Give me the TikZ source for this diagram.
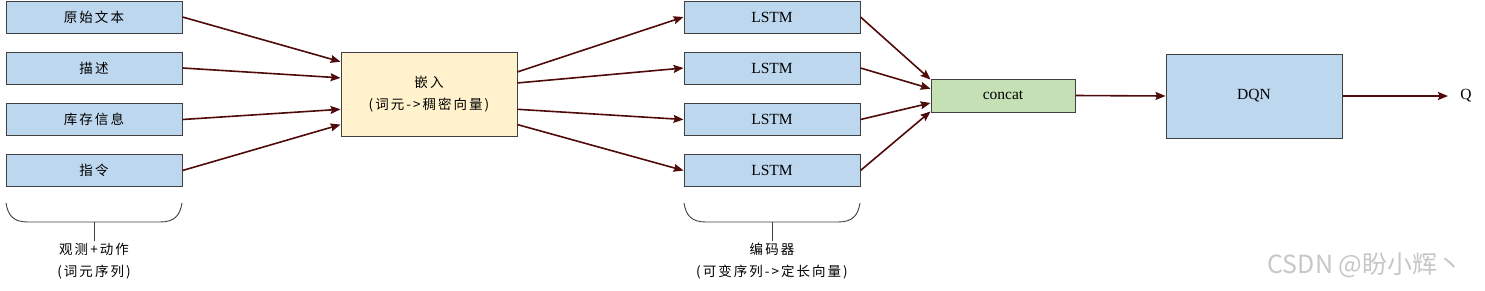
\documentclass[tikz,border=0pt]{standalone}
\usepackage{fontspec}
\setmainfont{Liberation Serif}
\newfontfamily\cjk[LetterSpace=15]{Noto Sans CJK SC}
\newfontfamily\wmfont{Noto Sans CJK SC}
\usetikzlibrary{arrows.meta,calc}
\definecolor{boxblue}{HTML}{BDD7EE}
\definecolor{boxyellow}{HTML}{FFF2CC}
\definecolor{boxgreen}{HTML}{C5E0B4}
\definecolor{edgegray}{HTML}{404040}
\definecolor{arr}{HTML}{4F0A0A}
\begin{document}
\begin{tikzpicture}[x=1pt,y=-1pt,
  box/.style={draw=edgegray, line width=1pt, fill=boxblue, minimum width=176pt,
    minimum height=32pt, inner sep=0pt, align=center},
  cjkfont/.style={font=\cjk\fontsize{13.5}{22}\selectfont},
  latfont/.style={font=\fontsize{15.5}{18}\selectfont},
  con/.style={draw=arr, line width=1.6pt, -{Stealth[length=10pt,width=8pt,inset=1.5pt]}},
  brace/.style={draw=edgegray, line width=0.9pt},
  lab/.style={cjkfont, align=center, inner sep=2pt}]
\useasboundingbox (0,0) rectangle (1485,290);
% input boxes
\node[box, cjkfont] (a1) at (94,17) {原始文本};
\node[box, cjkfont] (a2) at (94,68) {描述};
\node[box, cjkfont] (a3) at (94,119.5) {库存信息};
\node[box, cjkfont] (a4) at (94,170.5) {指令};
% embedding
\node[box, cjkfont, fill=boxyellow, minimum height=84pt] (emb) at (429,94) {嵌入\\(词元->稠密向量)};
% LSTM boxes
\node[box, latfont] (s1) at (772,17) {LSTM};
\node[box, latfont] (s2) at (772,68) {LSTM};
\node[box, latfont] (s3) at (772,119.5) {LSTM};
\node[box, latfont] (s4) at (772,170.5) {LSTM};
% concat and DQN
\node[box, latfont, fill=boxgreen, minimum width=144pt, minimum height=33pt] (cc) at (1003,95.5) {concat};
\node[box, latfont, minimum height=84pt] (dqn) at (1254,96) {DQN};
\node[latfont, inner sep=0pt] (q) at (1466,96) {Q};
\coordinate (qin) at (1448,96);
% connectors into embedding
\draw[con] (a1.east) -- ($(emb.north west)!0.12!(emb.south west)$);
\draw[con] (a2.east) -- ($(emb.north west)!0.31!(emb.south west)$);
\draw[con] (a3.east) -- ($(emb.north west)!0.68!(emb.south west)$);
\draw[con] (a4.east) -- ($(emb.north west)!0.86!(emb.south west)$);
% embedding to LSTM
\draw[con] ($(emb.north east)!0.24!(emb.south east)$) -- (s1.west);
\draw[con] ($(emb.north east)!0.37!(emb.south east)$) -- (s2.west);
\draw[con] ($(emb.north east)!0.68!(emb.south east)$) -- (s3.west);
\draw[con] ($(emb.north east)!0.86!(emb.south east)$) -- (s4.west);
% LSTM to concat
\draw[con] (s1.east) -- ($(cc.north west)!0.03!(cc.south west)$);
\draw[con] (s2.east) -- ($(cc.north west)!0.30!(cc.south west)$);
\draw[con] (s3.east) -- ($(cc.north west)!0.72!(cc.south west)$);
\draw[con] (s4.east) -- ($(cc.north west)!0.97!(cc.south west)$);
% concat -> DQN -> Q
\draw[con] (cc.east) -- (dqn.west);
\draw[con] (dqn.east) -- (qin);
% braces and labels
\draw[brace] (6,203) .. controls (8,216) and (14,222) .. (28,222) -- (160,222) .. controls (174,222) and (180,216) .. (182,203);
\coordinate (b1) at (94,222);
\node[lab] (lab1) at (94,261) {观测+动作\\(词元序列)};
\draw[brace] (b1) -- (lab1.north);
\draw[brace] (684,203) .. controls (686,216) and (692,222) .. (706,222) -- (838,222) .. controls (852,222) and (858,216) .. (860,203);
\coordinate (b2) at (772,222);
\node[lab] (lab2) at (772,261) {编码器\\(可变序列->定长向量)};
\draw[brace] (b2) -- (lab2.north);
% watermark
\node[text=black!22, font=\wmfont\fontsize{25}{25}\selectfont, inner sep=0pt] (wm) at (1365,265) {CSDN @盼小辉丶};
\end{tikzpicture}
\end{document}
